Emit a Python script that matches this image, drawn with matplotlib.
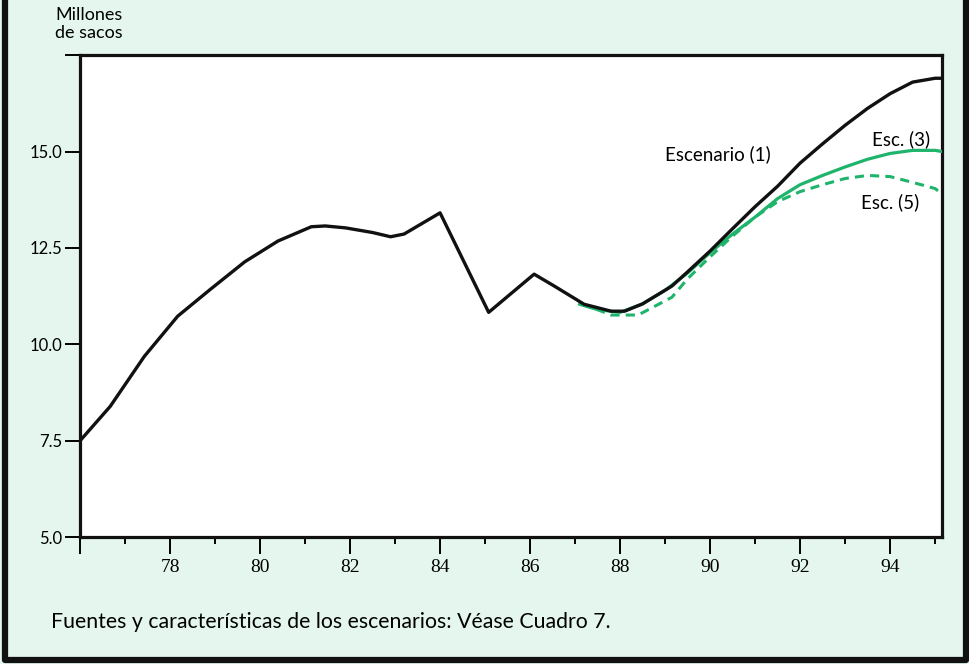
import matplotlib.pyplot as plt
from matplotlib.lines import Line2D

# Escenario (1) - black line
years1 = [76, 76.67, 77.43, 78.17, 78.9, 79.66, 80.4, 81.14, 81.45, 81.9, 82.5, 82.9,
          83.2, 84.0, 85.08, 86.09, 86.54, 87.2, 87.8, 88.1, 88.5, 89.15, 89.5, 90,
          90.5, 91, 91.5, 92, 92.5, 93, 93.5, 94, 94.5, 95, 95.15]
esc1 = [7.5, 8.39, 9.69, 10.73, 11.43, 12.14, 12.68, 13.05, 13.07, 13.02, 12.9, 12.79,
        12.86, 13.41, 10.83, 11.82, 11.51, 11.04, 10.86, 10.86, 11.05, 11.51, 11.88,
        12.42, 13.0, 13.57, 14.1, 14.7, 15.2, 15.68, 16.12, 16.5, 16.8, 16.9, 16.9]

# Esc. (3) - green solid
years3 = [87.1, 87.5, 88, 88.5, 89, 89.5, 90, 90.5, 91, 91.5, 92, 92.5, 93, 93.5, 94,
          94.5, 95, 95.15]
esc3 = [11.04, 10.9, 10.83, 11.05, 11.4, 11.85, 12.38, 12.86, 13.3, 13.78, 14.14, 14.38,
        14.6, 14.8, 14.95, 15.03, 15.03, 15.0]

# Esc. (5) - green dashed
years5 = [87.15, 87.5, 87.8, 88.4, 89.15, 89.5, 90, 90.5, 91, 91.5, 92, 92.5, 93, 93.5,
          94, 94.5, 95, 95.15]
esc5 = [11.04, 10.9, 10.76, 10.76, 11.22, 11.7, 12.27, 12.81, 13.3, 13.7, 13.96, 14.14,
        14.3, 14.38, 14.35, 14.2, 14.04, 13.9]

xticks_major = [76, 78, 80, 82, 84, 86, 88, 90, 92, 94]
xtick_labels = ["", "78", "80", "82", "84", "86", "88", "90", "92", "94"]
xticks_minor = [77, 79, 81, 83, 85, 87, 89, 91, 93, 95]
yticks = [5.0, 7.5, 10.0, 12.5, 15.0, 17.5]
ytick_labels = ["5.0", "7.5", "10.0", "12.5", "15.0", ""]

bg = "#e4f6ee"
green = "#1fb46b"
sans = ["Lato", "DejaVu Sans"]

fig = plt.figure(figsize=(9.7, 6.64), dpi=100, facecolor=bg)
ax = fig.add_axes([0.0825, 0.191, 0.8885, 0.726])
ax.set_facecolor("white")

ax.plot(years5, esc5, color=green, lw=2.2, ls=(0, (3, 2)), zorder=2)
ax.plot(years3, esc3, color=green, lw=2.3, zorder=3)
ax.plot(years1, esc1, color="#111111", lw=2.4, zorder=4)

ax.set_xlim(76, 95.15)
ax.set_ylim(5.0, 17.5)

for s in ax.spines.values():
    s.set_linewidth(2.3)
    s.set_color("#111111")

ax.set_xticks(xticks_major)
ax.set_xticklabels(xtick_labels, family=["Liberation Serif"], fontsize=14)
ax.set_xticks(xticks_minor, minor=True)
ax.set_yticks(yticks)
ax.set_yticklabels(ytick_labels, family=sans, fontsize=12)
ax.tick_params(axis="x", which="major", direction="out", length=12, width=1.4, pad=4)
ax.tick_params(axis="x", which="minor", direction="out", length=5, width=1.4)
ax.tick_params(axis="y", direction="out", length=11, width=1.4, pad=2)

ax.text(91.35, 14.77, "Escenario (1)", family=sans, fontsize=13.5, ha="right", va="baseline")
ax.text(94.9, 15.16, "Esc. (3)", family=sans, fontsize=13.5, ha="right", va="baseline")
ax.text(94.65, 13.54, "Esc. (5)", family=sans, fontsize=13.5, ha="right", va="baseline")

fig.text(0.057, 0.99, "Millones\nde sacos", family=sans, fontsize=13, va="top", ha="left",
         linespacing=1.15)
fig.text(0.053, 0.063, "Fuentes y características de los escenarios: Véase Cuadro 7.",
         family=sans, fontsize=15.3, va="center", ha="left")

# outer frame: left, bottom, right
fig.add_artist(Line2D([0.0055, 0.0055, 0.9955, 0.9955], [1.0, 0.0055, 0.0055, 1.0],
                      transform=fig.transFigure, color="#111111", lw=4.5))

fig.savefig("out.png", dpi=100, facecolor=bg)
